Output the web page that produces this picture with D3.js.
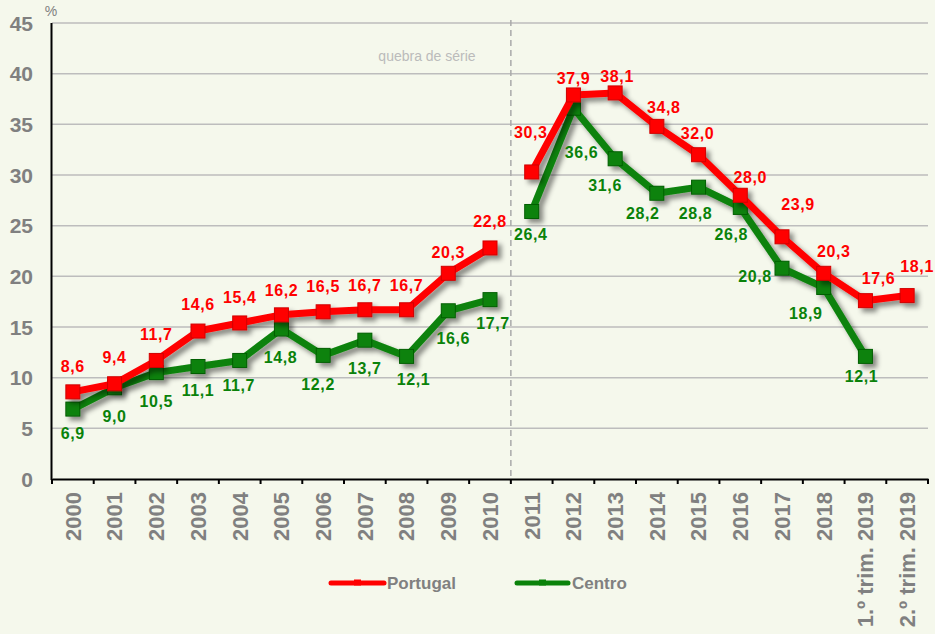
<!DOCTYPE html>
<html>
<head>
<meta charset="utf-8">
<script src="https://cdn.jsdelivr.net/npm/d3@7"></script>
<style>
  html, body { margin: 0; padding: 0; background: #F5F8EC; }
  svg { display: block; }
  text { font-family: Arial, "Liberation Sans", sans-serif; }
</style>
</head>
<body>
<svg id="chart" width="935" height="634"></svg>
<script>
// Categories along the x axis
const categories = ["2000", "2001", "2002", "2003", "2004", "2005", "2006", "2007", "2008", "2009",
  "2010", "2011", "2012", "2013", "2014", "2015", "2016", "2017", "2018",
  "1.º trim. 2019", "2.º trim. 2019"];

// Series values (%)
const portugal = [8.6, 9.4, 11.7, 14.6, 15.4, 16.2, 16.5, 16.7, 16.7, 20.3, 22.8,
  30.3, 37.9, 38.1, 34.8, 32.0, 28.0, 23.9, 20.3, 17.6, 18.1];
const centro = [6.9, 9.0, 10.5, 11.1, 11.7, 14.8, 12.2, 13.7, 12.1, 16.6, 17.7,
  26.4, 36.6, 31.6, 28.2, 28.8, 26.8, 20.8, 18.9, 12.1, null];

// Y axis ticks
const yTicks = [0, 5, 10, 15, 20, 25, 30, 35, 40, 45];

// Series break: lines are not joined across this boundary
const breakAfter = "2010";
const breakLabel = "quebra de série";

// Value-label nudges (pixels, relative to the marker)
const portugalLabelDx = [0, 0, 0, 0, 0, 0, 0, 0, 0, 0, 0, -1, 0, 2, 7, -1, 10, 16, 10, 13, 10];
const portugalLabelDy = [-26, -27, -26, -27, -26, -25, -26, -25, -25, -21, -27, -40, -17, -17, -19, -21, -18, -33, -22, -22, -29];
const centroLabelDx = [0, 0, 0, 0, -1, -1, -5, 0, 7, 5, 3, -1, 8, -10, -14, -3, -9, -27, -18, -4, 0];
const centroLabelDy = [24, 28, 29, 24, 25, 28, 29, 28, 23, 27, 24, 23, 44, 26, 20, 26, 27, 8, 26, 20, 0];

const series = [
  { name: "Centro", values: centro, color: "#0A820A", stroke: "#065E06", dx: centroLabelDx, dy: centroLabelDy },
  { name: "Portugal", values: portugal, color: "#FF0000", stroke: "#D00000", dx: portugalLabelDx, dy: portugalLabelDy }
];

const svg = d3.select("#chart");
const plotLeft = 52, plotRight = 928, plotTop = 23, plotBottom = 479;

const x = d3.scaleBand().domain(categories).range([plotLeft, plotRight]).padding(0);
const y = d3.scaleLinear().domain([0, 45]).range([plotBottom, plotTop]);
const cx = c => x(c) + x.bandwidth() / 2;

// Soft drop shadow for lines and markers
const defs = svg.append("defs");
const shadow = defs.append("filter").attr("id", "shadow")
  .attr("x", "-20%").attr("y", "-20%").attr("width", "140%").attr("height", "140%");
shadow.append("feDropShadow").attr("dx", 4).attr("dy", 4).attr("stdDeviation", 2.8)
  .attr("flood-color", "#000").attr("flood-opacity", 0.45);

// Horizontal gridlines
svg.append("g").selectAll("line").data(yTicks.filter(t => t > 0)).join("line")
  .attr("x1", plotLeft).attr("x2", plotRight)
  .attr("y1", d => y(d)).attr("y2", d => y(d))
  .attr("stroke", "#BDBDBD").attr("stroke-width", 1.5);

// Y axis labels
svg.append("g").selectAll("text").data(yTicks).join("text")
  .attr("x", 33).attr("y", d => y(d)).attr("dy", "0.36em")
  .attr("text-anchor", "end")
  .attr("font-size", 21).attr("font-weight", "bold").attr("fill", "#808080")
  .text(d => d);

svg.append("text").attr("x", 51).attr("y", 16)
  .attr("text-anchor", "middle").attr("font-size", 14).attr("fill", "#808080")
  .text("%");

// Series break marker
const bx = x(breakAfter) + x.bandwidth();
svg.append("line").attr("x1", bx).attr("x2", bx).attr("y1", 20).attr("y2", plotBottom)
  .attr("stroke", "#AAAAAA").attr("stroke-width", 1.5).attr("stroke-dasharray", "6,4");
svg.append("text").attr("x", 427).attr("y", 56).attr("dy", "0.35em")
  .attr("text-anchor", "middle").attr("font-size", 14).attr("fill", "#BBBBBB")
  .text(breakLabel);

// Axes
svg.append("line").attr("x1", plotLeft - 0.5).attr("x2", plotLeft - 0.5).attr("y1", plotTop).attr("y2", plotBottom + 1)
  .attr("stroke", "#000").attr("stroke-width", 2);
const xAxis = svg.append("g").attr("transform", `translate(0,${plotBottom})`)
  .call(d3.axisBottom(x).tickSize(0).tickFormat(""));
xAxis.select(".domain").attr("stroke", "#000").attr("stroke-width", 2.2);
// Boundary ticks between categories
const boundaries = categories.map(c => x(c)).concat([plotRight]);
svg.append("g").selectAll("line").data(boundaries).join("line")
  .attr("x1", d => d).attr("x2", d => d).attr("y1", plotBottom).attr("y2", plotBottom + 5)
  .attr("stroke", "#000").attr("stroke-width", 2);

// Rotated category labels
svg.append("g").selectAll("text").data(categories).join("text")
  .attr("transform", d => `translate(${cx(d)},${plotBottom + 13}) rotate(-90)`)
  .attr("text-anchor", "end").attr("dy", "0.36em")
  .attr("font-size", 22).attr("font-weight", "bold").attr("fill", "#808080")
  .text(d => d);

// Lines and markers
const breakIndex = categories.indexOf(breakAfter);
const line = d3.line()
  .defined(d => d.v != null)
  .x(d => cx(d.c)).y(d => y(d.v));

series.forEach(s => {
  const pts = categories.map((c, i) => ({ c, v: s.values[i], i }));
  const segments = [pts.slice(0, breakIndex + 1), pts.slice(breakIndex + 1)];
  const g = svg.append("g").attr("filter", "url(#shadow)");
  segments.forEach(seg => {
    g.append("path").datum(seg).attr("d", line)
      .attr("fill", "none").attr("stroke", s.color).attr("stroke-width", 7)
      .attr("stroke-linejoin", "round");
  });
  g.selectAll("rect").data(pts.filter(d => d.v != null)).join("rect")
    .attr("x", d => cx(d.c) - 7).attr("y", d => y(d.v) - 7)
    .attr("width", 14).attr("height", 14)
    .attr("fill", s.color).attr("stroke", s.stroke).attr("stroke-width", 1);
});

// Value labels
series.forEach(s => {
  const pts = categories.map((c, i) => ({ c, v: s.values[i], i })).filter(d => d.v != null);
  svg.append("g").selectAll("text").data(pts).join("text")
    .attr("x", d => cx(d.c) + s.dx[d.i]).attr("y", d => y(d.v) + s.dy[d.i])
    .attr("dy", "0.36em").attr("text-anchor", "middle")
    .attr("font-size", 16).attr("font-weight", "bold").attr("letter-spacing", "0.6")
    .attr("fill", s.color)
    .text(d => d3.format(".1f")(d.v).replace(".", ","));
});

// Legend
const legend = [
  { name: "Portugal", color: "#FF0000", x1: 331, x2: 384, tx: 387 },
  { name: "Centro", color: "#0A820A", x1: 517, x2: 568, tx: 572 }
];
const lg = svg.append("g");
legend.forEach(l => {
  lg.append("line").attr("x1", l.x1).attr("x2", l.x2).attr("y1", 583).attr("y2", 583)
    .attr("stroke", l.color).attr("stroke-width", 5).attr("stroke-linecap", "round");
  lg.append("rect").attr("x", (l.x1 + l.x2) / 2 - 3.5).attr("y", 579.5)
    .attr("width", 7).attr("height", 6).attr("fill", l.color);
  lg.append("text").attr("x", l.tx).attr("y", 583).attr("dy", "0.36em")
    .attr("font-size", 17).attr("font-weight", "bold").attr("fill", "#808080")
    .text(l.name);
});
</script>
</body>
</html>
